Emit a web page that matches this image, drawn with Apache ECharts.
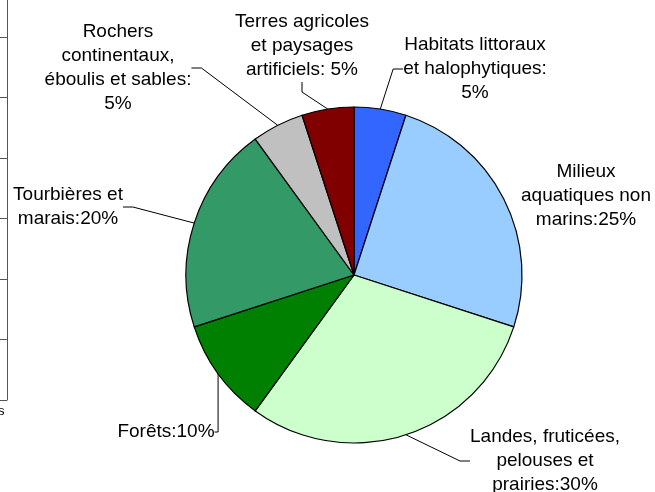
<!DOCTYPE html>
<html>
<head>
<meta charset="utf-8">
<script src="https://cdn.jsdelivr.net/npm/echarts@6/dist/echarts.min.js"></script>
<style>
  html, body { margin: 0; padding: 0; background: #fff; }
  #chart { width: 655px; height: 492px; }
</style>
</head>
<body>
<div id="chart"></div>
<script>
// Habitat categories, clockwise from 12 o'clock
const categories = [
  'Habitats littoraux\net halophytiques:\n',
  'Milieux\naquatiques non\nmarins:',
  'Landes, fruticées,\npelouses et\nprairies:',
  'Forêts:',
  'Tourbières et\nmarais:',
  'Rochers\ncontinentaux,\néboulis et sables:\n',
  'Terres agricoles\net paysages\nartificiels: '
];
const shares = [5, 25, 30, 10, 20, 5, 5];
const colors = ['#3366FF', '#99CCFF', '#CCFFCC', '#008000', '#339966', '#C0C0C0', '#800000'];

// label anchor points (centre of each text block)
const labelPos = [
  [475, 69], [586, 196], [545, 461], [166, 432], [68, 207], [118, 68], [302, 46]
];

// scale ticks of the neighbouring frame on the left edge
const sideTicks = [0, 1, 2, 3, 4, 5, 6];
const sideMax = 6.61;

const chart = echarts.init(document.getElementById('chart'), null, { renderer: 'canvas' });

chart.setOption({
  animation: false,
  backgroundColor: '#ffffff',
  textStyle: { fontFamily: 'Liberation Sans, Arial, sans-serif' },
  grid: { left: 7, width: 1, top: 0, bottom: 92, show: false },
  xAxis: { type: 'value', show: false },
  yAxis: {
    type: 'value', min: 0, max: sideMax,
    position: 'left',
    axisLine: { show: true, lineStyle: { color: '#555', width: 1 } },
    axisTick: {
      show: true, inside: false, length: 7, customValues: sideTicks,
      lineStyle: { color: '#555', width: 1 }
    },
    axisLabel: { show: false },
    splitLine: { show: false }
  },
  graphic: [{
    type: 'text', left: -2, top: 405,
    style: { text: 's', font: '13px "Liberation Sans", Arial, sans-serif', fill: '#000' }
  }],
  series: [{
    type: 'pie',
    center: [354, 275],
    radius: 168,
    startAngle: 90,
    clockwise: true,
    avoidLabelOverlap: false,
    itemStyle: { borderColor: '#000', borderWidth: 1.2 },
    label: {
      show: true,
      position: 'outside',
      color: '#000',
      fontSize: 19,
      lineHeight: 24,
      fontFamily: 'Liberation Sans, Arial, sans-serif',
      align: 'center',
      formatter: p => p.name + p.value + '%'
    },
    labelLine: {
      show: true, length: 10, length2: 10,
      lineStyle: { color: '#000', width: 1 }
    },
    labelLayout: p => ({
      x: labelPos[p.dataIndex][0],
      y: labelPos[p.dataIndex][1],
      align: 'center',
      verticalAlign: 'middle'
    }),
    emphasis: { disabled: true },
    data: categories.map((c, i) => ({
      name: c,
      value: shares[i],
      itemStyle: { color: colors[i] },
      labelLine: { show: i !== 1 }
    }))
  }]
});
</script>
</body>
</html>
